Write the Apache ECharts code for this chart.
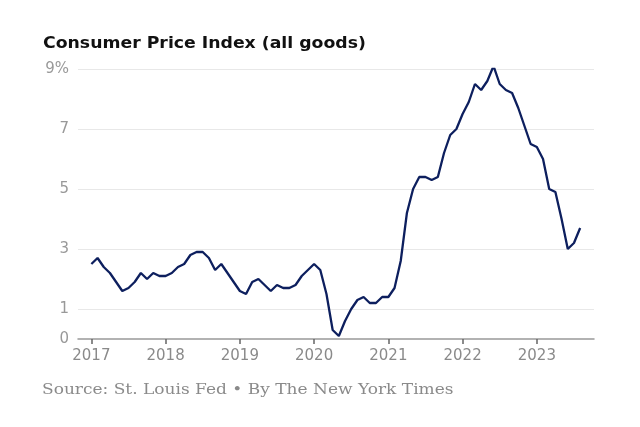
<!DOCTYPE html>
<html><head><meta charset="utf-8">
<script src="https://cdn.jsdelivr.net/npm/echarts@6/dist/echarts.min.js"></script>
<style>html,body{margin:0;padding:0;background:#fff;}#c{width:640px;height:427px;}</style>
</head><body><div id="c"></div>
<script>
const startYear = 2017;
const cpi2017 = [2.5, 2.7, 2.4, 2.2, 1.9, 1.6, 1.7, 1.9, 2.2, 2.0, 2.2, 2.1];
const cpi2018 = [2.1, 2.2, 2.4, 2.5, 2.8, 2.9, 2.9, 2.7, 2.3, 2.5, 2.2, 1.9];
const cpi2019 = [1.6, 1.5, 1.9, 2.0, 1.8, 1.6, 1.8, 1.7, 1.7, 1.8, 2.1, 2.3];
const cpi2020 = [2.5, 2.3, 1.5, 0.3, 0.1, 0.6, 1.0, 1.3, 1.4, 1.2, 1.2, 1.4];
const cpi2021 = [1.4, 1.7, 2.6, 4.2, 5.0, 5.4, 5.4, 5.3, 5.4, 6.2, 6.8, 7.0];
const cpi2022 = [7.5, 7.9, 8.5, 8.3, 8.6, 9.1, 8.5, 8.3, 8.2, 7.7, 7.1, 6.5];
const cpi2023 = [6.4, 6.0, 5.0, 4.9, 4.0, 3.0, 3.2, 3.7];
const yearTicks = [2017, 2018, 2019, 2020, 2021, 2022, 2023];
const yTickLabels = {0: '0', 1: '1', 3: '3', 5: '5', 7: '7', 9: '9%'};
const titleText = 'Consumer Price Index (all goods)';
const sourceText = 'Source: St. Louis Fed \u2022 By The New York Times';

const values = [].concat(cpi2017, cpi2018, cpi2019, cpi2020, cpi2021, cpi2022, cpi2023);
const seriesData = values.map((v, i) => [startYear + i / 12, v]);

const chart = echarts.init(document.getElementById('c'), null, {renderer: 'canvas'});
const grid = '#e8e8e8';
chart.setOption({
  animation: false,
  backgroundColor: '#fff',
  graphic: [
    {type: 'text', x: 43, y: 36, scaleX: 1.08,
     style: {text: titleText, font: 'bold 16px "DejaVu Sans", sans-serif', fill: '#111'}},
    {type: 'text', x: 42, y: 383, scaleX: 1.215,
     style: {text: sourceText, font: '14px "DejaVu Serif", serif', fill: '#8a8a8a'}}
  ],
  grid: {left: 78, right: 46, top: 69, bottom: 88},
  xAxis: {
    type: 'value', min: 2016.82, max: 2023.77,
    axisLine: {show: true, lineStyle: {color: '#999', width: 1.5}},
    axisTick: {show: true, customValues: yearTicks, length: 5, lineStyle: {color: '#666', width: 1.5}},
    axisLabel: {customValues: yearTicks, color: '#8a8a8a', fontSize: 15, margin: 10,
      fontFamily: '"DejaVu Sans", sans-serif', formatter: v => String(Math.round(v))},
    splitLine: {show: false}
  },
  yAxis: {
    type: 'value', min: 0, max: 9, interval: 1,
    axisLine: {show: false}, axisTick: {show: false},
    axisLabel: {color: '#999', fontSize: 15, margin: 9,
      fontFamily: '"DejaVu Sans", sans-serif',
      formatter: v => (yTickLabels[v] !== undefined ? yTickLabels[v] : '')},
    splitLine: {show: true, lineStyle: {width: 1,
      color: ['transparent', grid, 'transparent', grid, 'transparent', grid, 'transparent', grid, 'transparent', grid]}}
  },
  series: [{
    type: 'line', data: seriesData, showSymbol: false, smooth: false,
    lineStyle: {color: '#0d1f5e', width: 2.3}, z: 5
  }]
});
</script></body></html>
